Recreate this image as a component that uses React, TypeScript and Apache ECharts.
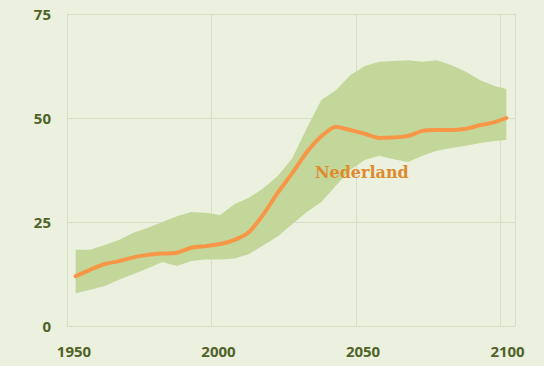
import React, { useEffect, useRef } from "react";
import * as echarts from "echarts";

const years = [1953, 1958, 1963, 1968, 1973, 1978, 1983, 1988, 1993, 1998, 2003, 2008, 2013, 2018, 2023, 2028, 2033, 2038, 2043, 2048, 2053, 2058, 2063, 2068, 2073, 2078, 2083, 2088, 2093, 2098, 2102];
const nederland = [12.0, 13.5, 14.9, 15.6, 16.5, 17.1, 17.4, 17.6, 18.8, 19.2, 19.7, 20.7, 22.6, 26.9, 32.1, 36.8, 41.8, 45.6, 47.9, 47.1, 46.2, 45.2, 45.3, 45.7, 46.9, 47.1, 47.1, 47.4, 48.3, 49.0, 50.0];
const upper = [18.3, 18.3, 19.5, 20.7, 22.4, 23.6, 25.0, 26.4, 27.4, 27.2, 26.7, 29.3, 30.8, 33.2, 36.1, 40.4, 47.6, 54.3, 56.7, 60.3, 62.5, 63.5, 63.7, 63.9, 63.5, 63.9, 62.7, 61.1, 59.1, 57.7, 57.0];
const lower = [7.9, 8.7, 9.6, 11.1, 12.5, 13.9, 15.4, 14.4, 15.6, 16.0, 16.0, 16.2, 17.3, 19.4, 21.6, 24.5, 27.4, 29.8, 33.7, 37.5, 39.9, 40.9, 40.1, 39.4, 40.9, 42.1, 42.8, 43.3, 44.0, 44.5, 44.7];
const yTicks = [0, 25, 50, 75];
const xTicks = [1950, 2000, 2050, 2100];
const labelText = "Nederland";
const labelAt = [2052, 37];

export default function App() {
  const ref = useRef<HTMLDivElement>(null);
  useEffect(() => {
    if (!ref.current) return;
    const chart = echarts.init(ref.current, undefined, { renderer: "svg" });
    const gridColor = "#d6dfc3";
    const labelColor = "#4f6228";
    chart.setOption({
      animation: false,
      backgroundColor: "#ebf1de",
      grid: { left: 67, top: 14, right: 29, bottom: 40 },
      xAxis: {
        type: "value",
        min: xTicks[0],
        max: 2105,
        interval: 50,
        axisLine: { show: true, lineStyle: { color: gridColor } },
        axisTick: { show: false },
        splitLine: { show: true, lineStyle: { color: gridColor } },
        axisLabel: {
          showMaxLabel: false,
          color: labelColor,
          fontFamily: "Open Sans",
          fontWeight: "bold",
          fontSize: 15,
          margin: 17,
          padding: [0, 0, 0, 14],
          formatter: (v: number) => (xTicks.includes(v) ? String(v) : ""),
        },
      },
      yAxis: {
        type: "value",
        min: yTicks[0],
        max: yTicks[yTicks.length - 1],
        interval: 25,
        axisLine: { show: true, lineStyle: { color: gridColor } },
        axisTick: { show: false },
        splitLine: { show: true, lineStyle: { color: gridColor } },
        axisLabel: {
          color: labelColor,
          fontFamily: "Open Sans",
          fontWeight: "bold",
          fontSize: 15,
          margin: 16,
        },
      },
      series: [
        {
          type: "custom",
          silent: true,
          data: years.map((y, i) => [y, lower[i], upper[i]]),
          encode: { x: 0, y: [1, 2] },
          renderItem: (params: any, api: any) => {
            if (params.dataIndex !== 0) return null;
            const top = years.map((y, i) => api.coord([y, upper[i]]));
            const bottom = years.map((y, i) => api.coord([y, lower[i]])).reverse();
            return {
              type: "polygon",
              shape: { points: top.concat(bottom) },
              style: { fill: "#c4d79b", stroke: "none" },
            };
          },
          z: 1,
        },
        {
          type: "line",
          data: years.map((y, i) => [y, nederland[i]]),
          symbol: "none",
          smooth: 0.2,
          z: 3,
          lineStyle: { color: "#f79646", width: 4, cap: "round", join: "round" },
          markPoint: {
            symbol: "circle",
            symbolSize: 0,
            data: [{ coord: labelAt }],
            label: {
              show: true,
              formatter: labelText,
              position: "inside",
              color: "#e08a2e",
              fontFamily: "DejaVu Serif",
              fontWeight: "bold",
              fontSize: 16,
            },
          },
        },
      ],
    });
    return () => chart.dispose();
  }, []);
  return (
    <div
      ref={ref}
      style={{ position: "fixed", left: 0, top: 0, width: 544, height: 366 }}
    />
  );
}
